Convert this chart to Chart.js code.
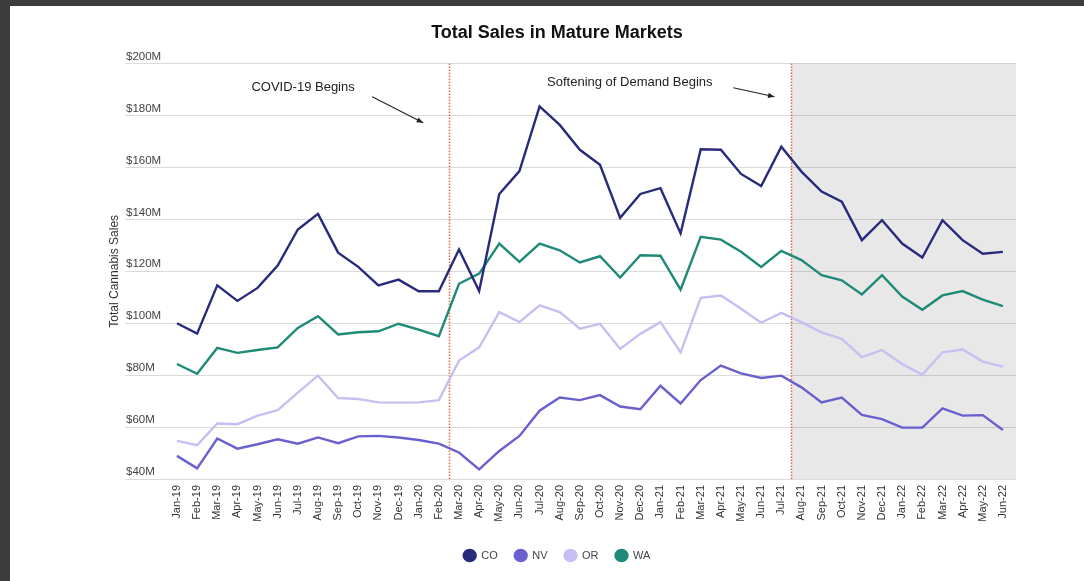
<!DOCTYPE html>
<html>
<head>
<meta charset="utf-8">
<script src="https://cdn.jsdelivr.net/npm/chart.js@4"></script>
<style>
  html, body { margin: 0; padding: 0; background: #3c3c3c; }
  #rahmen { position: absolute; left: 10px; top: 6px; width: 1074px; height: 575px; background: #fff; }
</style>
</head>
<body>
<div id="rahmen"><canvas id="salesChart" width="1074" height="575"></canvas></div>
<script>
// Monate (Kategorien)
const months = [
  'Jan-19','Feb-19','Mar-19','Apr-19','May-19','Jun-19','Jul-19','Aug-19','Sep-19','Oct-19','Nov-19','Dec-19',
  'Jan-20','Feb-20','Mar-20','Apr-20','May-20','Jun-20','Jul-20','Aug-20','Sep-20','Oct-20','Nov-20','Dec-20',
  'Jan-21','Feb-21','Mar-21','Apr-21','May-21','Jun-21','Jul-21','Aug-21','Sep-21','Oct-21','Nov-21','Dec-21',
  'Jan-22','Feb-22','Mar-22','Apr-22','May-22','Jun-22'
];

// Umsätze in Mio. USD
const co = [100, 96, 114.6, 108.6, 113.6, 122.2, 136.1, 142.1, 127.2, 121.7, 114.6, 116.8,
            112.3, 112.3, 128.4, 112.4, 149.8, 158.6, 183.5, 176.4, 166.8, 161.0, 140.6, 149.8,
            152.0, 134.6, 167.0, 166.8, 157.5, 152.8, 168.0, 158.4, 150.7, 146.8, 132.0, 139.7,
            130.7, 125.3, 139.7, 132.0, 126.8, 127.5];
const nv = [48.9, 44.1, 55.6, 51.7, 53.4, 55.3, 53.6, 56.0, 53.8, 56.4, 56.6, 56.0,
            55.0, 53.6, 50.2, 43.7, 50.8, 56.6, 66.3, 71.4, 70.4, 72.3, 67.9, 66.9,
            75.9, 69.1, 78.1, 83.7, 80.7, 78.9, 79.8, 75.3, 69.5, 71.4, 64.7, 63.1,
            59.8, 59.8, 67.2, 64.4, 64.6, 58.9];
const or = [54.7, 53.0, 61.4, 61.1, 64.4, 66.5, 73.3, 79.8, 71.2, 70.8, 69.5, 69.4,
            69.5, 70.4, 85.6, 90.7, 104.3, 100.4, 106.9, 104.3, 97.9, 99.8, 90.1, 95.9,
            100.4, 88.8, 109.8, 110.7, 105.6, 100.2, 104.0, 100.4, 96.5, 94.0, 86.9, 89.7,
            84.3, 80.2, 88.8, 89.9, 85.2, 83.3];
const wa = [84.3, 80.5, 90.5, 88.6, 89.7, 90.7, 98.2, 102.7, 95.7, 96.5, 96.9, 99.8,
            97.5, 95.0, 115.2, 119.1, 130.7, 123.6, 130.7, 128.1, 123.4, 125.8, 117.6, 126.2,
            126.0, 112.9, 133.3, 132.2, 127.5, 121.7, 127.9, 124.3, 118.5, 116.5, 111.1, 118.5,
            110.3, 105.2, 110.7, 112.4, 109.1, 106.6];

// Ereignisse (zwischen Feb-20/Mar-20 und Jul-21/Aug-21)
const eventIdx = [13.5, 30.5];
const notes = [
  { text: 'COVID-19 Begins', at: [6.26, 190.7], from: [9.69, 187.2], to: [12.22, 177.2] },
  { text: 'Softening of Demand Begins', at: [22.48, 192.7], from: [27.62, 190.7], to: [29.66, 187.2] }
];

Chart.defaults.font.family = "'Liberation Sans', Arial, sans-serif";

function series(label, values, color) {
  return {
    label, data: values.map((v, i) => ({ x: i, y: v })),
    borderColor: color, backgroundColor: color, borderWidth: 2.4,
    pointRadius: 0, tension: 0
  };
}

function arrow(ctx, x1, y1, x2, y2) {
  ctx.beginPath(); ctx.moveTo(x1, y1); ctx.lineTo(x2, y2); ctx.stroke();
  const a = Math.atan2(y2 - y1, x2 - x1);
  ctx.beginPath();
  ctx.moveTo(x2, y2);
  ctx.lineTo(x2 - 7 * Math.cos(a - 0.4), y2 - 7 * Math.sin(a - 0.4));
  ctx.lineTo(x2 - 7 * Math.cos(a + 0.4), y2 - 7 * Math.sin(a + 0.4));
  ctx.closePath(); ctx.fill();
}

// Grauer Bereich, rote Markierungen, Beschriftungen
const markerPlugin = {
  id: 'markers',
  beforeDraw(chart) {
    const { ctx, chartArea: a, scales: { x } } = chart;
    const start = x.getPixelForValue(eventIdx[1]);
    ctx.save();
    ctx.fillStyle = '#e8e8e8';
    ctx.fillRect(start, a.top, a.right - start, a.bottom - a.top);
    ctx.restore();
  },
  beforeDatasetsDraw(chart) {
    const { ctx, chartArea: a, scales: { x } } = chart;
    ctx.save();
    ctx.strokeStyle = '#e46a42';
    ctx.lineWidth = 1.5;
    ctx.setLineDash([1.5, 1.5]);
    eventIdx.forEach(v => {
      const px = Math.round(x.getPixelForValue(v)) + 0.5;
      ctx.beginPath(); ctx.moveTo(px, a.top); ctx.lineTo(px, a.bottom); ctx.stroke();
    });
    ctx.restore();
  },
  afterDatasetsDraw(chart) {
    const { ctx, scales: { x, y } } = chart;
    ctx.save();
    ctx.fillStyle = '#222';
    ctx.strokeStyle = '#222';
    ctx.lineWidth = 1.1;
    ctx.font = "13px 'Liberation Sans', Arial, sans-serif";
    ctx.textAlign = 'center';
    ctx.textBaseline = 'middle';
    notes.forEach(n => {
      ctx.fillText(n.text, x.getPixelForValue(n.at[0]), y.getPixelForValue(n.at[1]));
      arrow(ctx, x.getPixelForValue(n.from[0]), y.getPixelForValue(n.from[1]),
                 x.getPixelForValue(n.to[0]), y.getPixelForValue(n.to[1]));
    });
    ctx.restore();
  }
};

new Chart(document.getElementById('salesChart').getContext('2d'), {
  type: 'line',
  data: {
    datasets: [
      series('CO', co, '#282a7c'),
      series('NV', nv, '#6a5fcf'),
      series('OR', or, '#c6c0f2'),
      series('WA', wa, '#1f8a77')
    ]
  },
  options: {
    responsive: false,
    animation: false,
    layout: { padding: { left: 20, right: 0, top: 0, bottom: 10 } },
    plugins: {
      title: {
        display: true, text: 'Total Sales in Mature Markets', color: '#111',
        font: { size: 18, weight: 'bold' }, padding: { top: 16, bottom: 20 }
      },
      legend: {
        position: 'bottom',
        labels: {
          usePointStyle: true, pointStyle: 'circle', boxHeight: 8, pointStyleWidth: 12,
          padding: 17, color: '#444', font: { size: 11 }
        }
      },
      tooltip: { enabled: false }
    },
    scales: {
      x: {
        type: 'linear', min: -2.58, max: 41.65,
        afterBuildTicks: s => { s.ticks = months.map((m, i) => ({ value: i })); },
        ticks: {
          autoSkip: false, maxRotation: 90, minRotation: 90, padding: 6,
          color: '#333', font: { size: 11 },
          callback: v => months[v] || ''
        },
        grid: { display: false, drawTicks: false },
        border: { display: false },
        afterFit: s => { s.height = 54; }
      },
      y: {
        min: 40, max: 200,
        ticks: {
          stepSize: 20, mirror: true, padding: 1, labelOffset: -7,
          color: '#444', font: { size: 11.5 },
          callback: v => '$' + v + 'M'
        },
        grid: { color: 'rgba(0,0,0,0.14)', drawTicks: false },
        border: { display: false },
        title: {
          display: true, text: 'Total Cannabis Sales', color: '#333',
          font: { size: 12 }, padding: { top: 77, bottom: 0 }
        },
        afterFit: s => { s.width = 95; }
      },
      yr: {
        position: 'right', display: true,
        ticks: { display: false },
        grid: { display: false, drawTicks: false },
        border: { display: false },
        afterFit: s => { s.width = 68; }
      }
    }
  },
  plugins: [markerPlugin]
});
</script>
</body>
</html>
